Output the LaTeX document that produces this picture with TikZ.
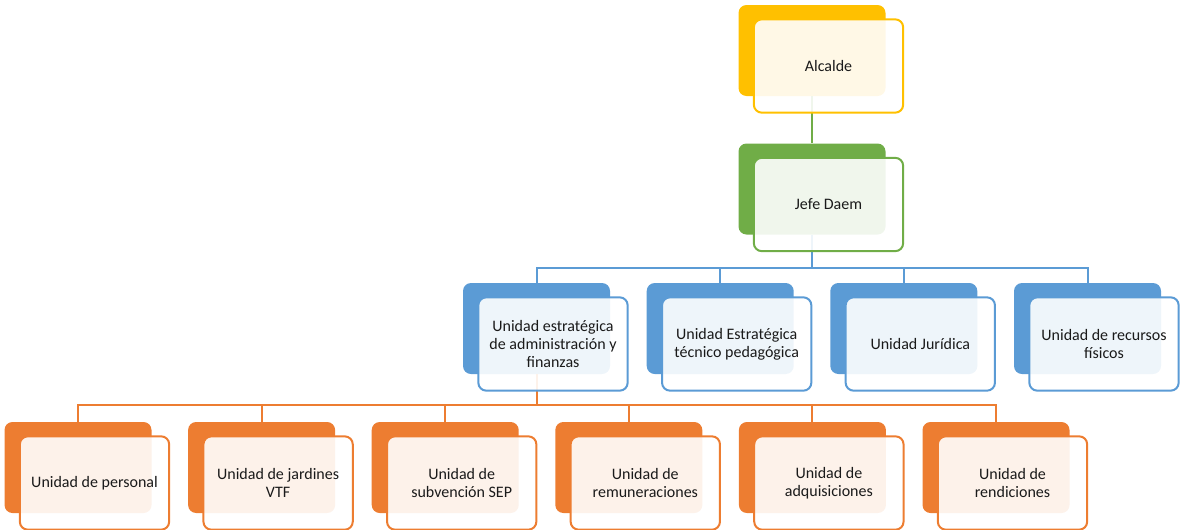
\documentclass[tikz,border=0pt]{standalone}
\usepackage{fontspec}
\setmainfont{Carlito}
\usetikzlibrary{calc}
\definecolor{cgold}{HTML}{FFC000}
\definecolor{cgreen}{HTML}{70AD47}
\definecolor{cblue}{HTML}{5B9BD5}
\definecolor{corange}{HTML}{ED7D31}
\definecolor{ctext}{HTML}{1A1A1A}
\tikzset{
  backbox/.style={fill=#1, draw=none, rounded corners=6pt, minimum width=110.25pt, minimum height=68.25pt, inner sep=0pt},
  frontbox/.style={fill=white, fill opacity=0.9, text opacity=1, draw=#1, line width=1.5pt, rounded corners=6pt,
     minimum width=112pt, minimum height=70pt, inner sep=0pt, align=center, text=ctext,
     font=\fontsize{12pt}{13.6pt}\selectfont},
  link/.style={draw=#1, line width=1.5pt}
}
\newcommand\backat[4]{\node[backbox=#4] (#1B) at (#2,#3) {};}
\newcommand\frontof[3]{\node[frontbox=#2] (#1) at ([shift={(16.5,15.5)}]#1B.center) {#3};}
\begin{document}
\begin{tikzpicture}[x=0.75pt,y=-0.75pt]
\useasboundingbox (0,0) rectangle (1180,529);
% back boxes
\backat{alc}{812}{50.5}{cgold}
\backat{jef}{812}{189}{cgreen}
\backat{ua}{536.5}{328.5}{cblue}
\backat{ub}{720.2}{328.5}{cblue}
\backat{uc}{903.8}{328.5}{cblue}
\backat{ud}{1087.5}{328.5}{cblue}
\backat{oa}{78}{467.5}{corange}
\backat{ob}{261.6}{467.5}{corange}
\backat{oc}{445.2}{467.5}{corange}
\backat{od}{628.8}{467.5}{corange}
\backat{oe}{812.4}{467.5}{corange}
\backat{of}{996}{467.5}{corange}
% bus levels
\coordinate (busB) at (0,268);
\coordinate (busO) at (0,405);
% connectors
\draw[link=cgreen] (alcB.south) -- (jefB.north);
\foreach \c in {ua,ub,uc,ud}{
  \draw[link=cblue] (jefB.south) -- (jefB.south |- busB) -| (\c B.north);
}
\foreach \c in {oa,ob,oc,od,oe,of}{
  \draw[link=corange] (uaB.south) -- (uaB.south |- busO) -| (\c B.north);
}
% front boxes
\frontof{alc}{cgold}{Alcalde}
\frontof{jef}{cgreen}{Jefe Daem}
\frontof{ua}{cblue}{Unidad estratégica\\de administración y\\finanzas}
\frontof{ub}{cblue}{Unidad Estratégica\\técnico pedagógica}
\frontof{uc}{cblue}{Unidad Jurídica}
\frontof{ud}{cblue}{Unidad de recursos\\físicos}
\frontof{oa}{corange}{Unidad de personal}
\frontof{ob}{corange}{Unidad de jardines\\VTF}
\frontof{oc}{corange}{Unidad de\\subvención SEP}
\frontof{od}{corange}{Unidad de\\remuneraciones}
\frontof{oe}{corange}{Unidad de\\adquisiciones}
\frontof{of}{corange}{Unidad de\\rendiciones}
\end{tikzpicture}
\end{document}
